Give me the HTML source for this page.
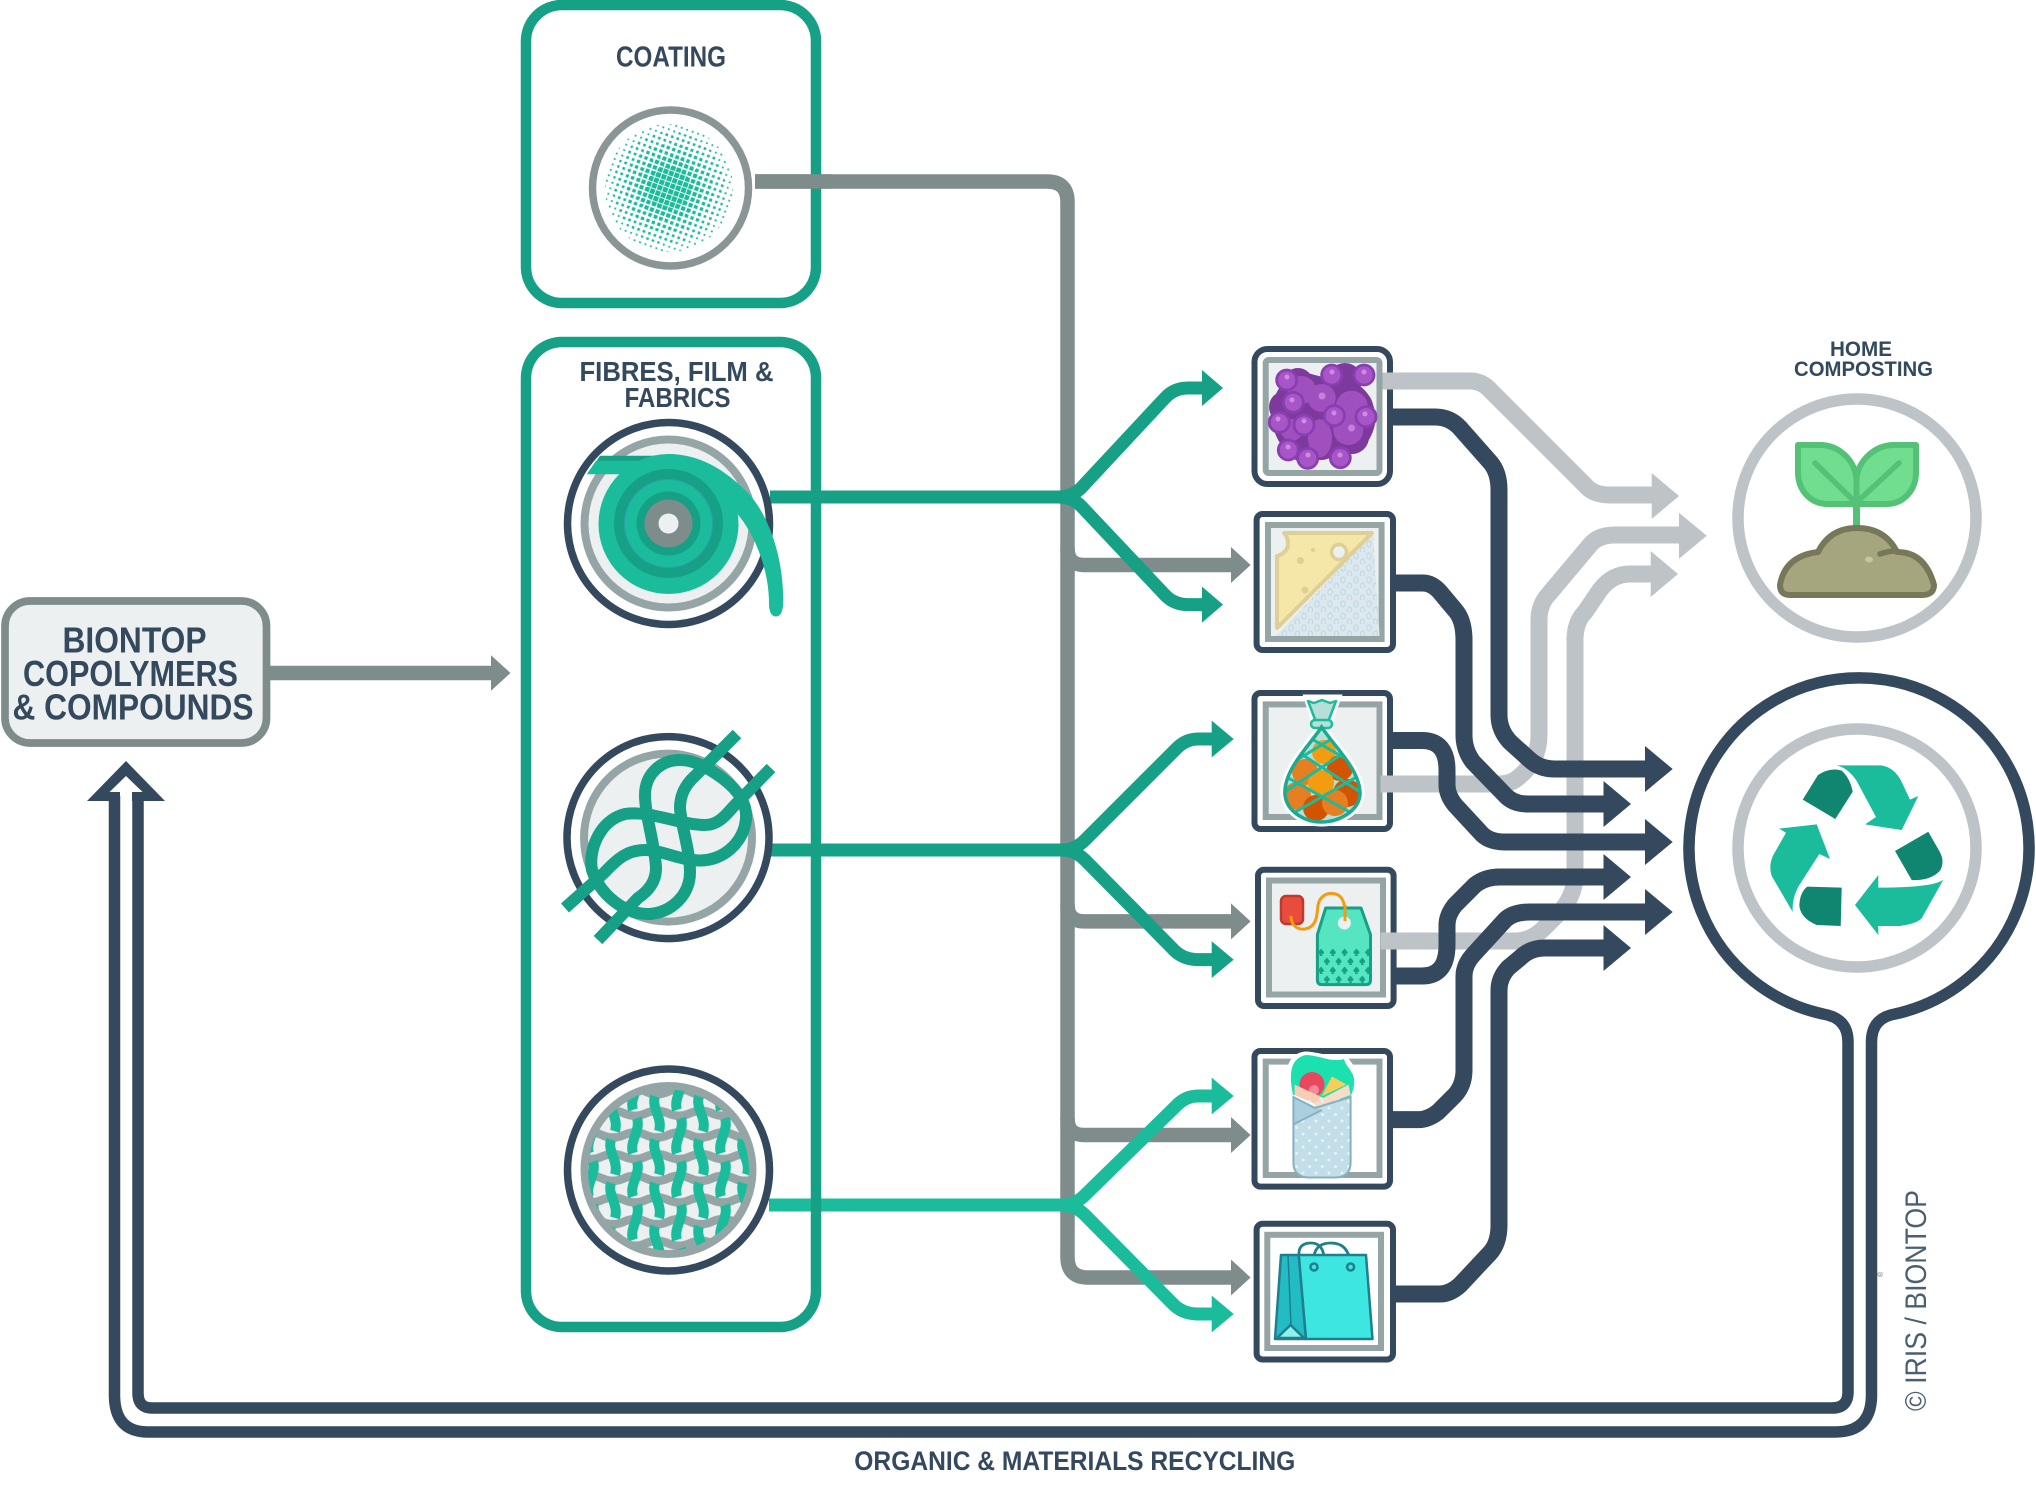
<!DOCTYPE html>
<html lang="en">
<head>
<meta charset="utf-8">
<title>Biontop diagram</title>
<style>
html,body{margin:0;padding:0;background:#fff}
svg{display:block}
text{font-family:"Liberation Sans",sans-serif;fill:#34495e;font-weight:bold}
</style>
</head>
<body>
<svg xmlns="http://www.w3.org/2000/svg" width="2036" height="1486" viewBox="0 0 2036 1486">
<defs>
<pattern id="d1" width="5.8" height="5.8" patternUnits="userSpaceOnUse" patternTransform="translate(669 188) rotate(20)"><rect x="2" y="2" width="1.8" height="1.8" fill="#1abc9c"/></pattern>
<pattern id="d2" width="5.8" height="5.8" patternUnits="userSpaceOnUse" patternTransform="translate(669 188) rotate(20)"><rect x="1.6" y="1.6" width="2.6" height="2.6" fill="#1abc9c"/></pattern>
<pattern id="d3" width="5.8" height="5.8" patternUnits="userSpaceOnUse" patternTransform="translate(669 188) rotate(20)"><rect x="1.25" y="1.25" width="3.3" height="3.3" fill="#1abc9c"/></pattern>
<pattern id="d4" width="5.8" height="5.8" patternUnits="userSpaceOnUse" patternTransform="translate(669 188) rotate(20)"><rect x="0.85" y="0.85" width="4.1" height="4.1" fill="#1abc9c"/></pattern>
<pattern id="d5" width="5.8" height="5.8" patternUnits="userSpaceOnUse" patternTransform="translate(669 188) rotate(20)"><rect x="0.45" y="0.45" width="4.9" height="4.9" fill="#1abc9c"/></pattern>
<pattern id="weave" width="44" height="43.330" patternUnits="userSpaceOnUse" patternTransform="translate(602 1102.300)">
  <g fill="none" stroke="#95a5a6" stroke-width="8.500">
    <path d="M-44 11q11 -5 22 0t22 0t22 0t22 0t22 0"/>
    <path d="M-44 32.700q11 5 22 0t22 0t22 0t22 0t22 0"/>
  </g>
  <g fill="none" stroke="#1abc9c" stroke-width="10">
    <path d="M9 -6C5 6 17 15 13 29"/>
    <path d="M9 37.330C5 49.330 17 58.330 13 72.330"/>
    <path d="M35 16C39 28 27 39 31 51"/>
    <path d="M35 -27.330C39 -15.330 27 -4.330 31 7.670"/>
  </g>
</pattern>
<pattern id="wrap" width="13" height="12" patternUnits="userSpaceOnUse"><ellipse cx="4" cy="4" rx="2.200" ry="3" fill="none" stroke="#c5dbe4" stroke-width="1.400"/><ellipse cx="10.500" cy="10" rx="2.200" ry="3" fill="none" stroke="#c5dbe4" stroke-width="1.400"/></pattern>
<pattern id="spade" width="11.800" height="18" patternUnits="userSpaceOnUse" patternTransform="translate(1318 948)">
  <path d="M3 0.500L6 4Q6 6.500 3.800 6L4.600 8H1.400L2.200 6Q0 6.500 0 4Z" fill="#16a085"/>
  <path d="M8.900 9.500L11.800 13Q11.800 15.500 9.700 15L10.500 17H7.300L8.100 15Q5.900 15.500 5.900 13Z" fill="#16a085"/>
</pattern>
<pattern id="bdots" width="13" height="13" patternUnits="userSpaceOnUse"><circle cx="3" cy="3" r="1.500" fill="#e6f2f6"/><circle cx="9.500" cy="9.500" r="1.500" fill="#e6f2f6"/></pattern>
<clipPath id="cw"><circle cx="668.500" cy="1170" r="80.500"/></clipPath>
<clipPath id="cnet"><path d="M1321.600 727C1310 745 1283 770 1285 795C1287 812 1305 822 1321.600 822C1338 822 1358 812 1360 795C1361 770 1333 745 1321.600 727Z"/></clipPath>
<clipPath id="cbur"><path d="M1293.400 1097L1350.600 1097V1162Q1350.600 1177.500 1335 1177.500H1309Q1293.400 1177.500 1293.400 1162Z"/></clipPath>
</defs>

<!-- BIONTOP box -->
<rect x="5" y="601" width="261.500" height="142" rx="25" fill="#ecf0f1" stroke="#7f8c8c" stroke-width="7.700"/>
<text x="134.500" y="652.700" font-size="36" text-anchor="middle" textLength="144" lengthAdjust="spacingAndGlyphs">BIONTOP</text>
<text x="130.500" y="686" font-size="36" text-anchor="middle" textLength="215" lengthAdjust="spacingAndGlyphs">COPOLYMERS</text>
<text x="133" y="719.300" font-size="36" text-anchor="middle" textLength="241" lengthAdjust="spacingAndGlyphs">&amp; COMPOUNDS</text>
<path d="M268 673H492" stroke="#7f8c8c" stroke-width="14.500" fill="none"/>
<polygon points="491,655.300 510.500,673 491,690.700" fill="#7f8c8c"/>

<!-- gray trunk -->
<g fill="none" stroke="#7f8c8c" stroke-width="14.500">
<path d="M755 181.500H1047Q1067.500 181.500 1067.500 202V1257Q1067.500 1277.500 1088 1277.500H1235"/>
<path d="M1067.500 548Q1067.500 565 1084 565H1235"/>
<path d="M1067.500 904Q1067.500 921.400 1084 921.400H1235"/>
<path d="M1067.500 1118Q1067.500 1135 1084 1135H1235"/>
</g>
<g fill="#7f8c8c">
<polygon points="1231,547 1250.600,565 1231,583"/>
<polygon points="1231,903.400 1250.600,921.400 1231,939.400"/>
<polygon points="1231,1117 1250.600,1135 1231,1153"/>
<polygon points="1231,1259.500 1250.600,1277.500 1231,1295.500"/>
</g>

<!-- teal lines -->
<g fill="none" stroke="#16a085" stroke-width="13">
<path d="M770 497H1062"/>
<path d="M1058 497Q1073 497 1082 487L1165 398Q1174 388 1188 388H1205"/>
<path d="M1058 497Q1073 497 1082 507L1165 595Q1174 604.600 1188 604.600H1205"/>
<path d="M770 850H1070"/>
<path d="M1062 850Q1075 850 1085 840L1175 750Q1185 739 1198 739H1214"/>
<path d="M1062 850Q1075 850 1085 860L1172 948Q1182 959.600 1198 959.600H1214"/>
</g>
<g fill="#16a085">
<polygon points="1202,370 1223,388 1202,406"/>
<polygon points="1202,586.600 1223,604.600 1202,622.600"/>
<polygon points="1211.700,720.600 1233.700,739 1211.700,757.400"/>
<polygon points="1211.700,941.200 1233.700,959.600 1211.700,978"/>
</g>
<g fill="none" stroke="#1abc9c" stroke-width="13">
<path d="M769 1205H1070"/>
<path d="M1062 1205Q1075 1205 1085 1195L1175 1107Q1185 1096 1198 1096H1214"/>
<path d="M1062 1205Q1075 1205 1085 1215L1172 1303Q1182 1314 1198 1314H1214"/>
</g>
<g fill="#1abc9c">
<polygon points="1211.700,1077.600 1233.700,1096 1211.700,1114.400"/>
<polygon points="1211.700,1295.600 1233.700,1314 1211.700,1332.400"/>
</g>

<!-- green boxes -->
<rect x="526" y="5" width="290" height="298" rx="36" fill="none" stroke="#16a085" stroke-width="10.500"/>
<rect x="526" y="342" width="290" height="985" rx="36" fill="none" stroke="#16a085" stroke-width="10.500"/>
<path d="M755 181.500H832" stroke="#7f8c8c" stroke-width="14.500" fill="none"/>

<text x="671" y="66.500" font-size="29" text-anchor="middle" textLength="110" lengthAdjust="spacingAndGlyphs">COATING</text>
<text x="676.500" y="381" font-size="27.500" text-anchor="middle" textLength="194" lengthAdjust="spacingAndGlyphs">FIBRES, FILM &amp;</text>
<text x="677.500" y="407" font-size="27.500" text-anchor="middle" textLength="106" lengthAdjust="spacingAndGlyphs">FABRICS</text>

<!-- coating circle -->
<circle cx="670.500" cy="188" r="78" fill="#fff" stroke="#8a9696" stroke-width="7.500"/>
<circle cx="669" cy="188" r="64" fill="url(#d1)"/>
<circle cx="669" cy="188" r="56" fill="url(#d2)"/>
<circle cx="669" cy="188" r="44" fill="url(#d3)"/>
<circle cx="669" cy="188" r="32" fill="url(#d4)"/>
<circle cx="669" cy="188" r="22" fill="url(#d5)"/>

<!-- spool -->
<circle cx="668.500" cy="523.500" r="101" fill="#fff" stroke="#34495e" stroke-width="7.500"/>
<circle cx="668.500" cy="523.500" r="84" fill="#ecf0f1" stroke="#95a5a6" stroke-width="8"/>
<polygon points="600,455.700 657,455.700 657,468.300 591.700,468.300" fill="#16a085"/>
<polygon points="596,460.700 647,460.700 647,474.300 586.700,474.300" fill="#1abc9c"/>
<circle cx="668.500" cy="524" r="70" fill="#1abc9c"/>
<path d="M668 454C700 454 725 470 747 492C765 510 783 550 783.300 600Q783.300 616.500 776 616.500Q769 616.500 769 603C769 570 755 535 738.300 515L720 480Z" fill="#1abc9c"/>
<circle cx="668.500" cy="523.500" r="54.500" fill="#16a085"/>
<circle cx="668.500" cy="523.500" r="44" fill="#1abc9c" stroke="#2f9fb0" stroke-width="1"/>
<circle cx="668.500" cy="523.500" r="32" fill="#16a085"/>
<circle cx="668.500" cy="523.500" r="24" fill="#7f8c8c"/>
<circle cx="668.500" cy="523.500" r="10" fill="#ecf0f1"/>

<!-- knot -->
<circle cx="668" cy="837.600" r="101" fill="#fff" stroke="#34495e" stroke-width="7.500"/>
<circle cx="668" cy="837.600" r="84" fill="#ecf0f1" stroke="#95a5a6" stroke-width="8"/>
<g fill="none" stroke="#16a085" stroke-width="12">
<path d="M565 908L604 873C618 858 628 850 645 850C660 850 675 858 692 860C725 864 742 840 745 825C750 805 738 790 722 778C708 768 695 760 680 760C660 760 645 775 645 795C645 815 655 845 656 868C656 880 650 890 638 898L598 940"/>
<path d="M737 734L695 776C685 785 680 795 680 808C681 825 690 850 690 872C690 895 672 912 650 914C625 915 600 895 592 870C588 850 600 820 625 814C650 810 680 825 705 825C720 825 728 812 735 805L771 768"/>
</g>

<!-- weave -->
<circle cx="668.500" cy="1170" r="101" fill="#fff" stroke="#34495e" stroke-width="7.500"/>
<circle cx="668.500" cy="1170" r="84" fill="#ecf0f1" stroke="#95a5a6" stroke-width="8"/>
<rect x="585" y="1085" width="170" height="170" clip-path="url(#cw)" fill="url(#weave)"/>

<!-- thumbnail frames -->
<g fill="#fff" stroke="#34495e" stroke-width="6">
<rect x="1254.500" y="349" width="135.500" height="135" rx="13"/>
<rect x="1256.600" y="514" width="136.400" height="136" rx="6"/>
<rect x="1254.500" y="693" width="135.500" height="136" rx="6"/>
<rect x="1258" y="869.800" width="135.600" height="136.200" rx="6"/>
<rect x="1254.500" y="1051" width="135.500" height="135.600" rx="6"/>
<rect x="1256.600" y="1223.700" width="136.400" height="135.800" rx="6"/>
</g>
<g stroke="#95a5a6" stroke-width="6">
<rect x="1265.700" y="360" width="113.800" height="113" rx="3" fill="#ecf0f1"/>
<rect x="1268" y="525" width="113.600" height="114" fill="#ecf0f1"/>
<rect x="1265.700" y="704.400" width="113.800" height="112.600" fill="#ecf0f1"/>
<rect x="1269" y="880.500" width="114" height="114" fill="#ecf0f1"/>
<rect x="1265.700" y="1061.600" width="113.800" height="113.400" fill="#fff"/>
<rect x="1267.300" y="1234.800" width="113.700" height="113.200" fill="#fff"/>
</g>

<!-- grapes -->
<path d="M1272 405Q1280 375 1305 372Q1322 378 1345 380Q1372 385 1376 418Q1372 450 1345 456L1300 463Q1280 450 1274 430Z" fill="#7d3a9c"/>
<g fill="#7d3a9c">
<circle cx="1298" cy="383" r="15"/><circle cx="1285" cy="407" r="16"/><circle cx="1345" cy="380" r="17"/><circle cx="1355" cy="407" r="18"/><circle cx="1352" cy="437" r="17"/><circle cx="1292" cy="440" r="12"/><circle cx="1322" cy="447" r="13"/>
</g>
<g fill="#9f4fbe">
<circle cx="1301.700" cy="390" r="14"/><circle cx="1321.700" cy="398" r="14"/><circle cx="1351.700" cy="406.700" r="16"/><circle cx="1348.300" cy="430" r="15"/><ellipse cx="1320" cy="438.300" rx="12" ry="19"/><circle cx="1291.700" cy="430" r="11"/>
</g>
<circle cx="1351.500" cy="428" r="3.500" fill="#c77fdd"/><circle cx="1322" cy="396" r="3.500" fill="#c77fdd"/>
<g fill="#a855c8" stroke="#8a3fb0" stroke-width="2.800">
<circle cx="1286.700" cy="380" r="10"/><circle cx="1331.700" cy="375" r="10"/><circle cx="1364" cy="375" r="10"/><circle cx="1293.300" cy="402.300" r="10"/><circle cx="1279.300" cy="422.300" r="10"/><circle cx="1304" cy="425" r="10"/><circle cx="1334.300" cy="415.700" r="10"/><circle cx="1366" cy="416.700" r="10"/><circle cx="1288.300" cy="450" r="10"/><circle cx="1307.700" cy="458.300" r="10"/><circle cx="1340.300" cy="457.700" r="10"/>
</g>
<g fill="#cf8be3">
<circle cx="1287" cy="377" r="2.500"/><circle cx="1332" cy="372" r="2.500"/><circle cx="1364" cy="372" r="2.500"/><circle cx="1292" cy="400" r="2.500"/><circle cx="1278" cy="419" r="2.500"/><circle cx="1304" cy="421" r="2.500"/><circle cx="1334" cy="413" r="2.500"/><circle cx="1365" cy="414" r="2.500"/><circle cx="1288" cy="447" r="2.500"/><circle cx="1308" cy="455" r="2.500"/><circle cx="1340" cy="455" r="2.500"/>
</g>

<!-- cheese -->
<polygon points="1373,533 1379.600,636 1276,636" fill="#dce8ee"/>
<polygon points="1373,533 1379.600,636 1276,636" fill="url(#wrap)"/>
<path d="M1284 533H1372L1277 628V556Q1288 553 1288 543Q1288 537 1284 533Z" fill="#f5e7a8" stroke="#decf96" stroke-width="4" stroke-linejoin="round"/>
<circle cx="1339" cy="552" r="7.500" fill="#ecf0f1" stroke="#decf96" stroke-width="3.500"/>
<circle cx="1313" cy="550" r="2" fill="#decf96"/><circle cx="1300.400" cy="560.500" r="3.500" fill="#decf96"/><circle cx="1305" cy="590" r="3.500" fill="#decf96"/>

<!-- net bag -->
<path d="M1321.600 727C1310 745 1283 770 1285 795C1287 812 1305 822 1321.600 822C1338 822 1358 812 1360 795C1361 770 1333 745 1321.600 727Z" fill="#fff" stroke="#fff" stroke-width="9"/>
<path d="M1306 697L1339 697L1330 722H1314Z" fill="#fff" stroke="#fff" stroke-width="5"/>
<path d="M1308 701L1314 703L1322 700L1330 703L1336 701L1328 722H1316Z" fill="#b5dfd7" stroke="#1abc9c" stroke-width="2.500" stroke-linejoin="round"/>
<rect x="1311" y="720" width="21" height="8" rx="4" fill="#b5dfd7" stroke="#1abc9c" stroke-width="2.500"/>
<path d="M1321.600 727C1310 745 1283 770 1285 795C1287 812 1305 822 1321.600 822C1338 822 1358 812 1360 795C1361 770 1333 745 1321.600 727Z" fill="#b5dfd7"/>
<g clip-path="url(#cnet)">
<circle cx="1324" cy="752" r="12" fill="#f39c12"/><circle cx="1305" cy="772" r="13" fill="#e67e22"/><circle cx="1340" cy="768" r="13" fill="#d35400"/><circle cx="1321" cy="783" r="13" fill="#f39c12"/><circle cx="1297" cy="796" r="14" fill="#e67e22"/><circle cx="1347" cy="793" r="14" fill="#d35400"/><circle cx="1316" cy="808" r="13" fill="#d35400"/><circle cx="1335" cy="803" r="13" fill="#e67e22"/>
<g fill="none" stroke="#1abc9c" stroke-width="3">
<path d="M1283 775L1355 815M1295 750L1365 795M1305 735L1365 770"/>
<path d="M1360 775L1290 815M1348 750L1280 795M1338 735L1280 770"/>
</g>
</g>
<path d="M1321.600 727C1310 745 1283 770 1285 795C1287 812 1305 822 1321.600 822C1338 822 1358 812 1360 795C1361 770 1333 745 1321.600 727Z" fill="none" stroke="#1cab90" stroke-width="3.500"/>

<!-- tea tag -->
<rect x="1281" y="896" width="22" height="28" rx="5" fill="#e74c3c" stroke="#c0392b" stroke-width="2.500"/>
<path d="M1291 916C1291 926 1298 930 1305 929C1317 927 1317 915 1318 905C1320 895 1328 893 1333 893.500C1342 894 1345 903 1345 912V922" fill="none" stroke="#f39c12" stroke-width="3"/>
<path d="M1325.700 908H1361L1370.500 934.600V980Q1370.500 984.600 1366 984.600H1322Q1317.400 984.600 1317.400 980V934.600Z" fill="#55e6c1" stroke="#16a085" stroke-width="3" stroke-linejoin="round"/>
<rect x="1319" y="947" width="50" height="36" fill="url(#spade)"/>
<circle cx="1344.400" cy="923" r="6.500" fill="#ecf0f1"/>
<path d="M1345 905V921" stroke="#f39c12" stroke-width="3" fill="none"/>

<!-- burrito -->
<path d="M1291 1096C1286 1070 1290 1056 1305 1054C1320 1054 1335 1062 1345 1058C1350 1066 1358 1070 1354 1085C1352 1095 1350 1100 1348 1100Z" fill="#fff" stroke="#fff" stroke-width="5"/>
<path d="M1293 1095C1288 1070 1292 1058 1306 1055C1318 1055 1332 1063 1344 1059C1346 1068 1356 1072 1354 1085C1353 1092 1350 1098 1349 1100Z" fill="#1de0b0"/>
<circle cx="1312" cy="1084.500" r="12.500" fill="#e8475f"/><circle cx="1314" cy="1090" r="5" fill="#f78a9a"/>
<polygon points="1321.600,1096.400 1332,1076.400 1346.400,1084.600" fill="#f6cf5a"/>
<polygon points="1294.600,1084.600 1321.600,1097 1315,1104 1294.600,1095" fill="#f7ceb4"/>
<polygon points="1348.500,1084.600 1350.600,1095 1315,1108 1314.500,1102.500" fill="#f9dcc8"/>
<path d="M1293.400 1097L1315 1108L1350.600 1097V1162Q1350.600 1177.500 1335 1177.500H1309Q1293.400 1177.500 1293.400 1162Z" fill="#c2dfe9"/>
<rect x="1293" y="1097" width="58" height="81" fill="url(#bdots)" clip-path="url(#cbur)"/>
<path d="M1293.400 1097L1322 1110L1294 1124Z" fill="#aacfdd"/>
<path d="M1293.400 1097L1315 1108L1350.600 1097V1162Q1350.600 1177.500 1335 1177.500H1309Q1293.400 1177.500 1293.400 1162ZM1294 1124L1322 1110" fill="none" stroke="#88b0c0" stroke-width="2"/>

<!-- bag -->
<path d="M1299 1256V1252Q1300 1243 1311 1243Q1322 1243 1324 1256M1314 1256Q1316 1243 1331 1243Q1349 1243 1350.600 1265" fill="none" stroke="#1f7f8c" stroke-width="2.800"/>
<polygon points="1281,1255 1298.800,1255 1306,1339 1275,1339" fill="#22bcc4" stroke="#1f7f8c" stroke-width="2.500" stroke-linejoin="round"/>
<polygon points="1298.800,1255 1366,1255 1372.500,1339 1306,1339" fill="#3ee6e2" stroke="#1f7f8c" stroke-width="2.500" stroke-linejoin="round"/>
<path d="M1288 1255L1291 1325" stroke="#1f7f8c" stroke-width="1.500" fill="none"/>
<polygon points="1290.500,1325 1304,1338 1277,1338" fill="#8ff0ec" stroke="#1f7f8c" stroke-width="2.500"/>
<circle cx="1314" cy="1267" r="3.500" fill="#3ee6e2" stroke="#1f7f8c" stroke-width="2.500"/>
<circle cx="1350.600" cy="1267" r="3.500" fill="#3ee6e2" stroke="#1f7f8c" stroke-width="2.500"/>

<!-- light gray connectors -->
<g fill="none" stroke="#bdc3c7" stroke-width="17">
<path d="M1382.500 381H1470Q1482 381 1490 390L1585 485Q1593 495 1610 495H1655"/>
<path d="M1380.500 784H1500Q1512 784 1520 776Q1539 760 1539 735V620Q1539 605 1548 595L1590 545Q1598 535 1615 535H1682"/>
<path d="M1380.500 941H1515Q1530 941 1542 930L1560 912Q1575 895 1575 875V640Q1575 622 1585 612L1600 590Q1612 574 1630 574H1654"/>
</g>
<g fill="#bdc3c7">
<polygon points="1651.700,473 1679,496 1651.700,519"/>
<polygon points="1679,512.700 1706.700,535.700 1679,558.700"/>
<polygon points="1650.700,551 1678,574 1650.700,597"/>
</g>

<!-- dark connectors -->
<g fill="none" stroke="#34495e" stroke-width="17">
<path d="M1393 417H1435Q1450 417 1460 428L1490 462Q1499 472 1499 490V715Q1499 730 1510 742L1530 760Q1540 769 1555 769H1650"/>
<path d="M1396 583H1423Q1432 583 1440 592L1455 610Q1464 620 1464 640V735Q1464 750 1473 762L1505 795Q1513 804 1528 804H1608"/>
<path d="M1393 740.500H1422Q1447 740.500 1447 770V785Q1447 795 1455 805L1480 832Q1488 842 1505 842H1650"/>
<path d="M1396 976H1422Q1447 976 1447 945V925Q1447 915 1455 905L1475 885Q1485 877 1500 877H1608"/>
<path d="M1393 1119.600H1419Q1428 1119.600 1438 1112L1455 1095Q1464 1085 1464 1070V976Q1464 965 1473 955L1505 920Q1513 912 1530 912H1650"/>
<path d="M1396 1294H1440Q1450 1294 1460 1285L1490 1253Q1499 1243 1499 1225V990Q1499 978 1508 968L1520 958Q1530 948 1545 948H1608"/>
</g>
<g fill="#34495e">
<polygon points="1645,746 1672.700,769 1645,792"/>
<polygon points="1603.500,781 1631,804 1603.500,827"/>
<polygon points="1645,819 1672.700,842 1645,865"/>
<polygon points="1603.500,854 1631,877 1603.500,900"/>
<polygon points="1645,889 1672.700,912 1645,935"/>
<polygon points="1603.500,925 1631,948 1603.500,971"/>
</g>

<!-- home composting -->
<text x="1861" y="356" font-size="21" text-anchor="middle" textLength="62" lengthAdjust="spacingAndGlyphs">HOME</text>
<text x="1863.500" y="376" font-size="21" text-anchor="middle" textLength="139" lengthAdjust="spacingAndGlyphs">COMPOSTING</text>
<circle cx="1857" cy="518" r="119" fill="#fff" stroke="#bdc3c7" stroke-width="11.500"/>
<path d="M1856.500 507V527" stroke="#53c277" stroke-width="7" fill="none"/>
<path d="M1798 445H1820C1840 445 1856 462 1856.500 480V504H1828C1810 504 1798 490 1798 472Z" fill="#70dd8f" stroke="#53c277" stroke-width="6" stroke-linejoin="round"/>
<path d="M1916 445H1894C1874 445 1857 462 1856.500 480V504H1886C1904 504 1916 490 1916 472Z" fill="#70dd8f" stroke="#53c277" stroke-width="6" stroke-linejoin="round"/>
<path d="M1815 463L1856 503L1899 463" fill="none" stroke="#53c277" stroke-width="5.500" stroke-linecap="round"/>
<path d="M1790 595Q1780 595 1780 585Q1785 556 1818 552Q1830 528 1857 528Q1885 528 1897 552Q1925 552 1934 585Q1934 595 1922 595Z" fill="#a5a57e" stroke="#77775a" stroke-width="6" stroke-linejoin="round"/>
<path d="M1880 554Q1888 551 1897 551" fill="none" stroke="#77775a" stroke-width="5.500" stroke-linecap="round"/>
<ellipse cx="1869" cy="559.500" rx="4" ry="3" fill="#c6c69e"/>

<!-- recycling keyhole -->
<polygon points="126,761 165,801 87,801" fill="#34495e"/>
<polygon points="126,776 142.600,792 132,792 132,812 120,812 120,792 109.500,792" fill="#fff"/>
<path d="M138 796V1393Q138 1408 152 1408H1832Q1848 1408 1848 1392V1042Q1848 1018 1823 1014A170 170 0 1 1 1895 1014Q1871.500 1018 1871.500 1042V1395Q1871.500 1432 1835 1432H148Q114.500 1432 114.500 1395V796" fill="none" stroke="#34495e" stroke-width="11.500"/>
<circle cx="1857" cy="848" r="119" fill="#fff" stroke="#bdc3c7" stroke-width="11.500"/>
<g fill="#108670">
<path d="M1802.700 799.600L1818 775Q1830 767 1841.700 770.600Q1850 778 1852.700 791.700L1835.300 819Z"/>
<path d="M1895 851L1928.300 831.800L1940 852.300Q1945 862 1940 870.700Q1930 881 1911.700 880Z"/>
<path d="M1807.300 886.600L1841.700 887.600L1840.700 926L1816.700 925Q1800 918 1799.300 905Q1800 892 1807.300 886.600Z"/>
</g>
<g fill="#1abc9c">
<path d="M1836.700 765.400H1881.700Q1895 768 1901.700 782L1910 799.600L1918.300 796L1901.700 830L1865 824.400L1876 817L1856.700 781Q1848 768 1836.700 765.400Z"/>
<path d="M1943.300 879.700Q1933 887.600 1878.300 887.600V875L1855 905L1878.300 935V926H1900Q1916.700 923.500 1921.700 918.200Z"/>
<path d="M1779 828.600L1816.700 824.400L1830 859L1819.300 854L1800 884Q1791.700 897 1792.700 912L1771.700 876Q1768.300 865.500 1773.300 855L1786 832.800Z"/>
</g>

<text x="1074.800" y="1470" font-size="27" text-anchor="middle" textLength="441" lengthAdjust="spacingAndGlyphs">ORGANIC &amp; MATERIALS RECYCLING</text>
<text transform="translate(1926 1411) rotate(-90)" font-size="30" textLength="221" lengthAdjust="spacingAndGlyphs" style="font-weight:normal;fill:#4a6070">© IRIS / BIONTOP</text>
<text transform="translate(1883 1277) rotate(-90)" font-size="7" style="font-weight:normal;fill:#5a6a70">®</text>
</svg>
</body>
</html>
